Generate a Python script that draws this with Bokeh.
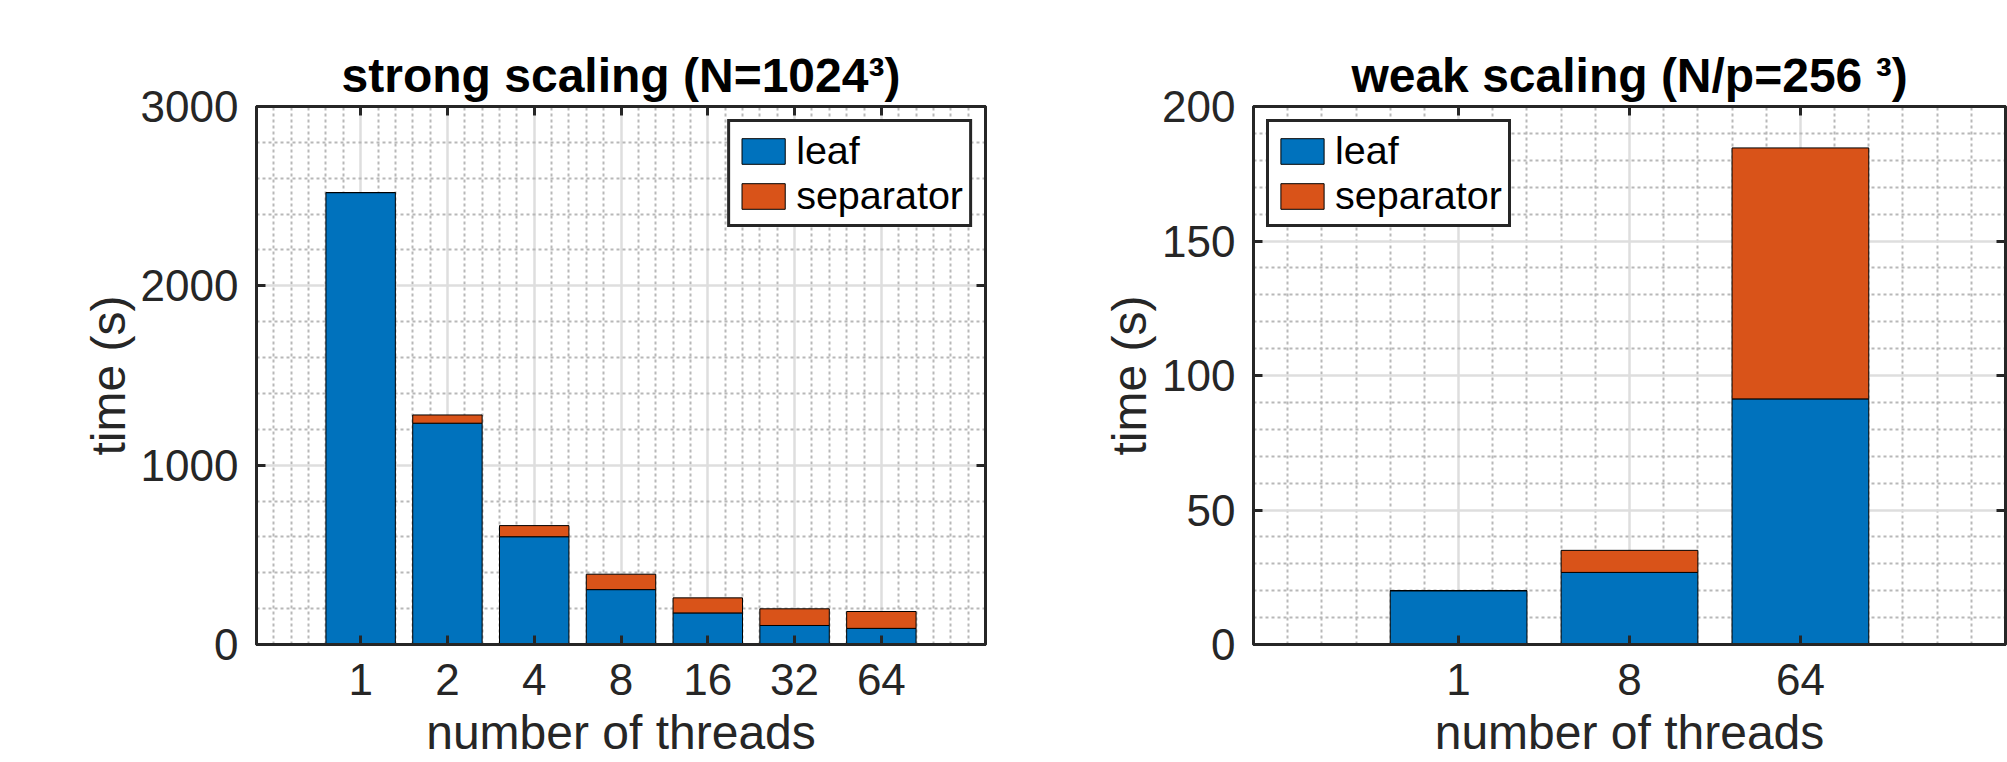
import numpy as np
from bokeh.plotting import figure
from bokeh.models import Range1d, FixedTicker, LinearAxis, ColumnDataSource
from bokeh.layouts import row
from bokeh.embed import file_html
from bokeh.resources import INLINE

# ---------------- data ----------------
strong_threads = ["1", "2", "4", "8", "16", "32", "64"]
strong_leaf = [2520, 1234, 601, 306, 176, 106, 90]
strong_sep = [0, 46, 62, 86, 84, 93, 94]

weak_threads = ["1", "8", "64"]
weak_leaf = [20.0, 26.8, 91.3]
weak_sep = [0.0, 8.2, 93.3]

series_names = ["leaf", "separator"]
series_colors = ["#0072BD", "#D95319"]

strong_yticks = [0, 1000, 2000, 3000]
strong_yminor_step = 200
weak_yticks = [0, 50, 100, 150, 200]
weak_yminor_step = 10

strong_title = "strong scaling (N=1024\u00b3)"
weak_title = "weak scaling (N/p=256 \u00b3)"
xlabel = "number of threads"
ylabel = "time (s)"

# ---------------- style ----------------
FONT = "Liberation Sans"
DARK = "#262626"
TICK_SIZE = "44px"
LABEL_SIZE = "48px"
LEGEND_SIZE = "39.5px"
H = 762
TOP = 106
BOTTOM = 118


def style_axis(ax, show_labels=True):
    ax.axis_line_color = DARK
    ax.axis_line_width = 3
    ax.major_tick_in = 9
    ax.major_tick_out = 0
    ax.major_tick_line_color = DARK
    ax.major_tick_line_width = 3
    ax.minor_tick_line_color = None
    ax.major_label_text_font = FONT
    ax.major_label_text_color = DARK
    if show_labels:
        ax.major_label_text_font_size = TICK_SIZE
    else:
        ax.major_label_text_font_size = "0px"
        ax.major_label_text_color = None
        ax.major_label_standoff = 0


def label_style(ax, text, standoff):
    ax.axis_label = text
    ax.axis_label_text_font = FONT
    ax.axis_label_text_font_size = LABEL_SIZE
    ax.axis_label_text_font_style = "normal"
    ax.axis_label_text_color = DARK
    ax.axis_label_standoff = standoff


def make_panel(title, cats, leaf, sep, yticks, ystep, width, mbl, mbr, legend_loc):
    n = len(cats)
    xpos = list(range(1, n + 1))
    x0, x1 = -0.2, n + 1.2
    ymax = yticks[-1]

    p = figure(width=width, height=H, output_backend="svg", toolbar_location=None,
               x_range=Range1d(x0, x1), y_range=Range1d(0, ymax),
               min_border_left=mbl, min_border_right=mbr,
               min_border_top=TOP, min_border_bottom=BOTTOM)
    p.background_fill_color = "white"
    p.border_fill_color = "white"
    p.outline_line_color = DARK
    p.outline_line_width = 3

    xminor = [round(v, 2) for v in np.arange(x0, x1 + 1e-9, 0.2)
              if min(abs(v - t) for t in xpos) > 1e-6]
    yminor = [float(v) for v in np.arange(0, ymax + 1e-9, ystep)
              if min(abs(v - t) for t in yticks) > 1e-6]
    p.xaxis.ticker = FixedTicker(ticks=xpos, minor_ticks=xminor)
    p.yaxis.ticker = FixedTicker(ticks=yticks, minor_ticks=yminor)
    p.xaxis.major_label_overrides = {i: c for i, c in zip(xpos, cats)}
    for ax in p.xaxis:
        style_axis(ax)
        ax.major_label_standoff = 15
        label_style(ax, xlabel, 8)
    for ax in p.yaxis:
        style_axis(ax)
        ax.major_label_standoff = 14
        label_style(ax, ylabel, 3)

    top_ax = LinearAxis(ticker=FixedTicker(ticks=xpos))
    style_axis(top_ax, show_labels=False)
    right_ax = LinearAxis(ticker=FixedTicker(ticks=yticks))
    style_axis(right_ax, show_labels=False)
    p.add_layout(top_ax, "above")
    p.add_layout(right_ax, "right")

    for g in (p.xgrid, p.ygrid):
        g.grid_line_color = "#dedede"
        g.grid_line_width = 2.5
        g.minor_grid_line_color = "#b8b8b8"
        g.minor_grid_line_width = 2
        g.minor_grid_line_dash = "3 3"

    src = ColumnDataSource(dict(x=xpos, leaf=leaf, sep=sep))
    p.vbar_stack(["leaf", "sep"], x="x", width=0.8, source=src,
                 fill_color=series_colors, line_color="black", line_width=1,
                 legend_label=series_names)

    p.title.text = title
    p.title.text_font = FONT
    p.title.text_font_size = LABEL_SIZE
    p.title.text_font_style = "bold"
    p.title.text_color = "black"
    p.title.align = "center"
    p.title.standoff = 10

    lg = p.legend[0]
    lg.location = legend_loc
    lg.margin = 13
    lg.padding = 6
    lg.spacing = 0
    lg.glyph_width = 54
    lg.glyph_height = 32
    lg.label_height = 32
    lg.label_standoff = 6
    lg.label_text_font = FONT
    lg.label_text_font_size = LEGEND_SIZE
    lg.label_text_color = "black"
    lg.border_line_color = DARK
    lg.border_line_width = 3
    lg.border_line_alpha = 1.0
    lg.background_fill_color = "white"
    lg.background_fill_alpha = 1.0
    return p


W1 = 1080
p1 = make_panel(strong_title, strong_threads, strong_leaf, strong_sep,
                strong_yticks, strong_yminor_step, W1, 256, W1 - 985, "top_right")
W2 = 2007 - W1
p2 = make_panel(weak_title, weak_threads, weak_leaf, weak_sep,
                weak_yticks, weak_yminor_step, W2, 1253 - W1, 2, "top_left")

layout = row(p1, p2)
open("out.html", "w").write(file_html(layout, INLINE))
